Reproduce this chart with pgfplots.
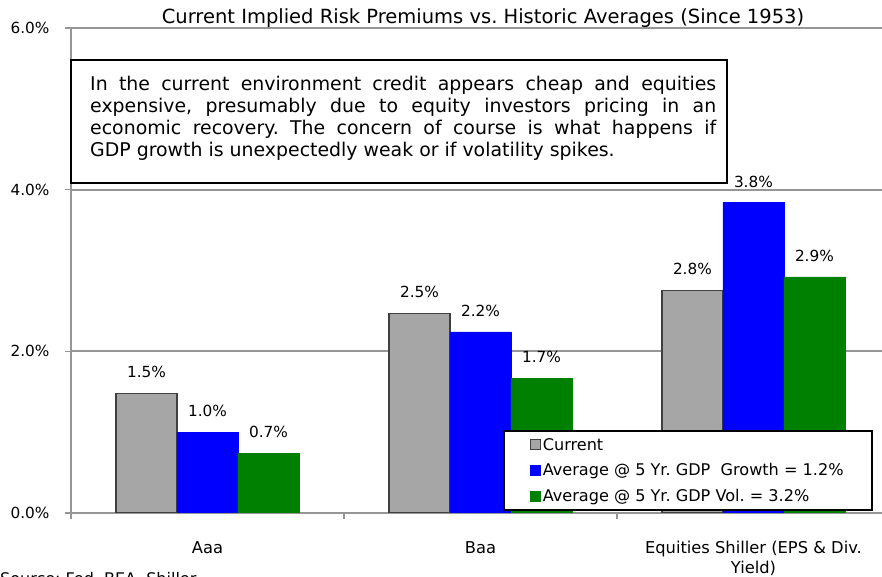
\documentclass[border=0pt]{standalone}
\usepackage{pgfplots}
\pgfplotsset{compat=1.18}
\usepackage{fontspec}
\setmainfont{DejaVu Sans}
\definecolor{cgray}{HTML}{A6A6A6}
\definecolor{cblue}{HTML}{0000FF}
\definecolor{cgreen}{HTML}{008000}
\definecolor{gridc}{HTML}{969696}
\begin{document}
\frenchspacing
\begin{tikzpicture}[x=1bp,y=1bp]
\useasboundingbox (0,0) rectangle (882,577);
\begin{axis}[
 at={(71bp,64bp)}, anchor=south west,
 scale only axis, width=811bp, height=485bp,
 xmin=-0.5, xmax=2.471, ymin=0, ymax=6,
 axis x line*=bottom, axis y line*=left,
 axis line style={draw=gridc, line width=1.8bp},
 ytick={0,2,4,6}, yticklabels={0.0\%,2.0\%,4.0\%,6.0\%},
 ymajorgrids, grid style={draw=gridc, line width=1.8bp},
 tick align=outside, major tick length=6bp,
 tick style={draw=gridc, line width=1.6bp},
 xtick={-0.5,0.5,1.5}, xticklabels={},
 extra x ticks={0,1,2},
 extra x tick labels={Aaa,Baa,{Equities Shiller (EPS \& Div.\\Yield)}},
 extra x tick style={major tick length=0pt, xticklabel style={align=center, yshift=-25bp, font=\fontsize{16.3bp}{20bp}\selectfont}},
 yticklabel style={font=\fontsize{15.3bp}{18bp}\selectfont, xshift=-12bp},
 ybar=0pt, bar width=61bp,
 nodes near coords, point meta=explicit symbolic,
 nodes near coords style={font=\fontsize{15.3bp}{18bp}\selectfont, anchor=south, inner sep=0pt, yshift=15bp, text=black},
 legend style={at={(0.5327,0.0041)}, anchor=south west, draw=black, line width=2bp, fill=white,
   font=\fontsize{16.1bp}{20bp}\selectfont, inner xsep=26bp, inner ysep=5bp, row sep=8bp},
 legend cell align=left,
 legend image code/.code={\draw[#1, line width=0.8bp] (0bp,-5bp) rectangle (10bp,5bp);},
]
\addplot[fill=cgray, draw=black!75, line width=1.2bp] coordinates {(0,1.48) [1.5\%] (1,2.47) [2.5\%] (2,2.75) [2.8\%]};
\addplot[fill=cblue, draw=cblue] coordinates {(0,1.00) [1.0\%] (1,2.24) [2.2\%] (2,3.84) [3.8\%]};
\addplot[fill=cgreen, draw=cgreen] coordinates {(0,0.74) [0.7\%] (1,1.67) [1.7\%] (2,2.92) [2.9\%]};
\legend{Current, Average @ 5 Yr. GDP\ \ Growth = 1.2\%, Average @ 5 Yr. GDP Vol. = 3.2\%}
\end{axis}
\node[font=\fontsize{19.5bp}{22bp}\selectfont, anchor=base] at (483,553) {Current Implied Risk Premiums vs. Historic Averages (Since 1953)};
\draw[black, line width=1.6bp, fill=white] (71,394) rectangle (727,517);
\node[font=\fontsize{18.9bp}{22bp}\selectfont, anchor=north west, inner sep=0pt, text width=626bp, align=justify] at (90,501)
 {In the current environment credit appears cheap and equities\linebreak expensive, presumably due to equity investors pricing in an\linebreak economic recovery. The concern of course is what happens if\linebreak GDP growth is unexpectedly weak or if volatility spikes.};
\node[font=\fontsize{16bp}{18bp}\selectfont, anchor=north west, inner sep=0pt] at (0,5) {Source: Fed, BEA, Shiller};
\end{tikzpicture}
\end{document}
